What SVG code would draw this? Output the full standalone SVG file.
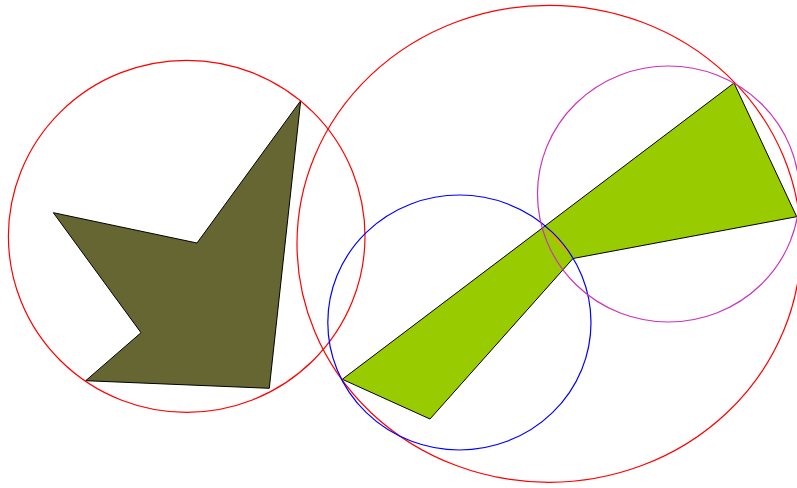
<svg xmlns="http://www.w3.org/2000/svg" width="797" height="488" viewBox="0 0 797 488">
<style>
.poly{stroke:#000;stroke-width:1;stroke-linejoin:miter}
.ring{fill:none;stroke-width:1.2}
</style>
<rect width="797" height="488" fill="#fff"/>
<g id="olive-shape"><polygon class="poly" fill="#666633" points="53.3,212.7 197,243 300.7,100.7 269.3,388.3 85.7,380.7 141,332.7"/></g>
<g id="green-shape"><polygon class="poly" fill="#99cc00" points="342.3,379.3 734,83 796.7,216.7 573,258.5 430,419"/></g>
<g id="orange-segment"><path fill="#ff9900" d="M544,227 A131.6,127.5 0 0 1 573,258.5 Z"/></g>
<g id="circles">
<ellipse id="left-red" class="ring" stroke="#ff0000" cx="186.7" cy="236.3" rx="178.3" ry="176"/>
<ellipse id="big-red" class="ring" stroke="#ff0000" cx="549" cy="243.8" rx="252" ry="238.5"/>
<ellipse id="blue" class="ring" stroke="#0000ff" cx="459.4" cy="322.5" rx="131.6" ry="127.5"/>
<ellipse id="magenta" class="ring" stroke="#cc33bb" cx="668.5" cy="194" rx="131" ry="128"/>
</g>
</svg>
